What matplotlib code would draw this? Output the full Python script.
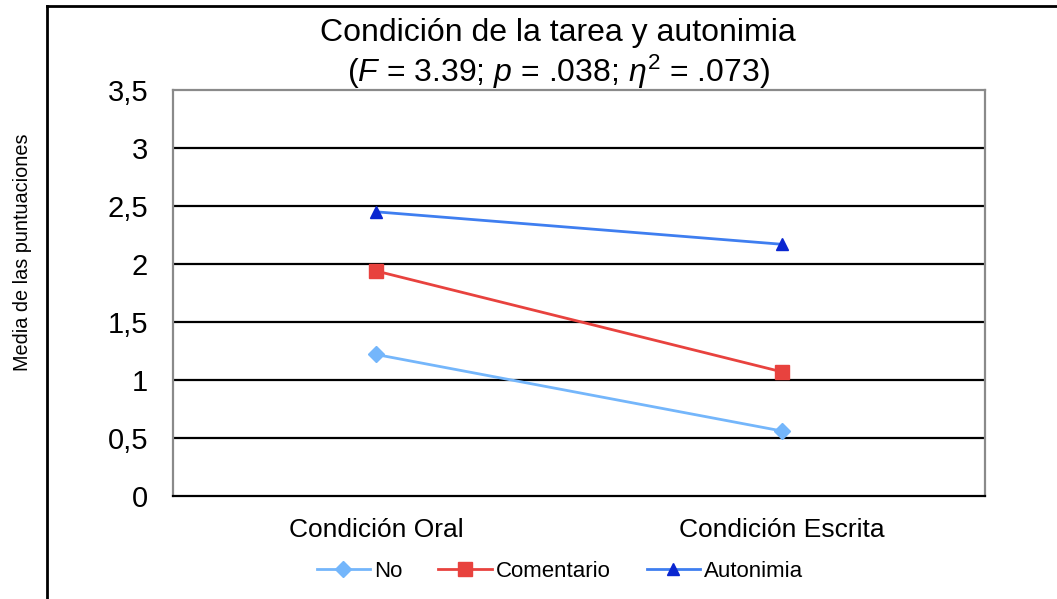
import matplotlib.pyplot as plt
from matplotlib.lines import Line2D

plt.rcParams['font.family'] = ['Liberation Sans', 'DejaVu Sans']
plt.rcParams['mathtext.fontset'] = 'custom'
plt.rcParams['mathtext.rm'] = 'Liberation Sans'
plt.rcParams['mathtext.it'] = 'Liberation Sans:italic'

conditions = ['Condición Oral', 'Condición Escrita']
no_vals = [1.22, 0.56]
comentario_vals = [1.94, 1.07]
autonimia_vals = [2.45, 2.17]
yticks = [0, 0.5, 1, 1.5, 2, 2.5, 3, 3.5]
ytick_labels = ['0', '0,5', '1', '1,5', '2', '2,5', '3', '3,5']

fig = plt.figure(figsize=(10.57, 5.99), dpi=100)
ax = fig.add_axes([0.1637, 0.172, 0.7682, 0.6777])

x = range(len(conditions))
ax.plot(x, no_vals, color='#74b6fb', lw=2, marker='D', ms=8,
        mfc='#74b6fb', mec='#74b6fb', label='No', zorder=3)
ax.plot(x, comentario_vals, color='#e8423e', lw=2, marker='s', ms=10,
        mfc='#e8423e', mec='#e8423e', label='Comentario', zorder=3)
ax.plot(x, autonimia_vals, color='#3f7ef0', lw=2, marker='^', ms=9,
        mfc='#0a26d0', mec='#0a26d0', label='Autonimia', zorder=3)

ax.set_xlim(-0.5, 1.5)
ax.set_ylim(0, 3.5)
ax.set_yticks(yticks)
ax.set_yticklabels(ytick_labels, fontsize=21)
ax.set_xticks(list(x))
ax.set_xticklabels(conditions, fontsize=19)
ax.tick_params(length=0)
ax.tick_params(axis='y', pad=18)
ax.tick_params(axis='x', pad=16)

for v in yticks[1:-1]:
    ax.axhline(v, color='black', lw=1.6, zorder=1)

for side in ['top', 'left', 'right']:
    ax.spines[side].set_color('#8a8a8a')
    ax.spines[side].set_linewidth(1.6)
ax.spines['bottom'].set_color('black')
ax.spines['bottom'].set_linewidth(1.6)

fig.text(0.528, 0.945, 'Condición de la tarea y autonimia', ha='center',
         va='center', fontsize=23)
fig.text(0.528, 0.88,
         r'($\it{F}$ = 3.39; $\it{p}$ = .038; $\it{\eta}^2$ = .073)',
         ha='center', va='center', fontsize=23)

fig.text(0.021, 0.579, 'Media de las puntuaciones', rotation=90,
         ha='center', va='center', fontsize=14.3)

ax.legend(loc='center', bbox_to_anchor=(0.4766, -0.185), ncol=3,
          frameon=False, fontsize=16, handlelength=2.4, handletextpad=0.2,
          columnspacing=1.6)

# outer frame
fig.add_artist(Line2D([0.0445, 0.0445], [0.0, 0.99], color='black', lw=2,
                      transform=fig.transFigure))
fig.add_artist(Line2D([0.0445, 1.0], [0.99, 0.99], color='black', lw=2,
                      transform=fig.transFigure))

fig.savefig('out.png', dpi=100)
